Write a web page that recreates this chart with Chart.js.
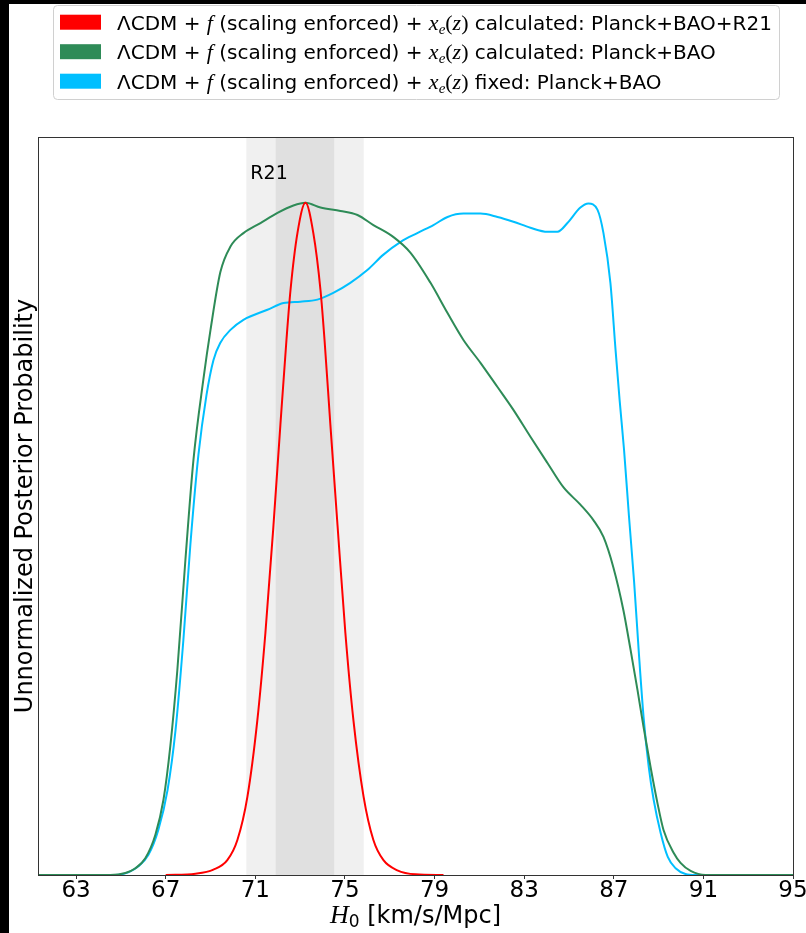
<!DOCTYPE html>
<html>
<head>
<meta charset="utf-8">
<script src="https://cdn.jsdelivr.net/npm/chart.js@4.4.1/dist/chart.umd.min.js"></script>
<style>
  html, body { margin: 0; padding: 0; background: #000; }
  canvas { display: block; }
</style>
</head>
<body>
<canvas id="h0Chart" width="806" height="933"></canvas>
<script>
// H0 posteriors (peak of each curve = 1)
const redX = [67.0, 68.33, 69.13, 69.75, 70.20, 70.65, 71.09, 71.45, 71.81, 72.12, 72.39, 72.57, 72.88, 73.24,
  73.59, 73.91, 74.09, 74.35, 74.67, 75.02, 75.38, 75.83, 76.27, 76.72, 77.34, 78.15, 79.40];
const redY = [0, 0.002, 0.008, 0.022, 0.052, 0.117, 0.23, 0.36, 0.52, 0.67, 0.796, 0.87, 0.955, 1.0,
  0.955, 0.87, 0.796, 0.67, 0.52, 0.36, 0.23, 0.117, 0.052, 0.022, 0.007, 0.001, 0];

const greenX = [61.32, 64.53, 65.20, 65.65, 66.09, 66.54, 66.90, 67.21, 67.52, 67.88, 68.24, 68.68, 69.00, 69.44,
  69.89, 70.47, 71.23, 71.99, 72.70, 73.24, 73.91, 74.80, 75.56, 76.27, 77.17, 77.92, 78.82, 79.58, 80.29, 81.05,
  81.81, 82.52, 83.28, 84.04, 84.75, 85.51, 86.09, 86.54, 86.98, 87.43, 87.75, 88.06, 88.33, 88.64, 88.95, 89.22,
  89.67, 89.98, 90.43, 91.10, 95.0];
const greenY = [0, 0, 0.003, 0.010, 0.025, 0.060, 0.112, 0.193, 0.305, 0.469, 0.618, 0.737, 0.811, 0.897,
  0.935, 0.955, 0.970, 0.985, 0.996, 1.0, 0.993, 0.988, 0.982, 0.967, 0.949, 0.926, 0.881, 0.836, 0.796, 0.762,
  0.726, 0.692, 0.652, 0.613, 0.577, 0.551, 0.528, 0.503, 0.458, 0.394, 0.335, 0.275, 0.220, 0.161, 0.107, 0.067,
  0.033, 0.018, 0.006, 0, 0];

const cyanX = [61.32, 64.76, 65.33, 65.78, 66.23, 66.67, 67.08, 67.44, 67.79, 68.10, 68.46, 68.82, 69.13, 69.44,
  69.89, 70.47, 71.54, 72.26, 73.01, 73.77, 74.48, 75.24, 76.00, 76.72, 77.49, 78.23, 78.95, 79.58, 80.29, 81.05,
  81.81, 82.52, 83.28, 84.04, 84.49, 84.93, 85.51, 85.87, 86.27, 86.54, 86.85, 87.08, 87.26, 87.46, 87.68, 87.91,
  88.11, 88.33, 88.56, 88.78, 89.09, 89.41, 89.76, 90.20, 90.65, 95.0];
const cyanY = [0, 0, 0.004, 0.013, 0.030, 0.067, 0.126, 0.216, 0.350, 0.491, 0.625, 0.714, 0.766, 0.792,
  0.811, 0.826, 0.841, 0.851, 0.853, 0.856, 0.866, 0.881, 0.900, 0.923, 0.942, 0.955, 0.967, 0.979, 0.984, 0.984,
  0.979, 0.972, 0.963, 0.957, 0.957, 0.970, 0.993, 0.999, 0.990, 0.955, 0.881, 0.781, 0.707, 0.632, 0.533, 0.435,
  0.335, 0.235, 0.161, 0.112, 0.063, 0.027, 0.010, 0.0015, 0, 0];

const xTicks = [63, 67, 71, 75, 79, 83, 87, 91, 95];
const r21Inner = [71.91, 74.52]; // 1 sigma band
const r21Outer = [70.60, 75.84]; // 2 sigma band

const seriesColors = ['#ff0000', '#2e8b57', '#00bfff'];
const legendTails = ['calculated: Planck+BAO+R21', 'calculated: Planck+BAO', 'fixed: Planck+BAO'];

const SANS = '"DejaVu Sans", sans-serif';
const SERIF = '"Liberation Serif", serif';

function toPoints(xs, ys) {
  return xs.map((x, i) => ({ x, y: ys[i] }));
}

function drawRuns(ctx, x, y, runs) {
  runs.forEach((r) => {
    ctx.font = r.font;
    ctx.fillText(r.text, x, y + (r.dy || 0));
    x += ctx.measureText(r.text).width;
  });
  return x;
}

function legendRuns(tail) {
  return [
    { text: 'ΛCDM + ', font: `20px ${SANS}` },
    { text: 'f', font: `italic 22px ${SERIF}` },
    { text: ' (scaling enforced) + ', font: `20px ${SANS}` },
    { text: 'x', font: `italic 22px ${SERIF}` },
    { text: 'e', font: `italic 15px ${SERIF}`, dy: 4 },
    { text: '(', font: `22px ${SERIF}` },
    { text: 'z', font: `italic 22px ${SERIF}` },
    { text: ')', font: `22px ${SERIF}` },
    { text: ' ' + tail, font: `20px ${SANS}` },
  ];
}

const figurePlugin = {
  id: 'figure',
  beforeDraw(chart) {
    const ctx = chart.ctx;
    ctx.save();
    ctx.fillStyle = '#000';
    ctx.fillRect(0, 0, chart.width, chart.height);
    ctx.fillStyle = '#fff';
    ctx.fillRect(9, 4, chart.width - 9, chart.height - 4);
    ctx.restore();
  },
  beforeDatasetsDraw(chart) {
    const { ctx, chartArea: a, scales } = chart;
    const xs = scales.x;
    ctx.save();
    ctx.fillStyle = '#f0f0f0';
    ctx.fillRect(xs.getPixelForValue(r21Outer[0]), a.top, xs.getPixelForValue(r21Outer[1]) - xs.getPixelForValue(r21Outer[0]), a.bottom - a.top);
    ctx.fillStyle = '#e0e0e0';
    ctx.fillRect(xs.getPixelForValue(r21Inner[0]), a.top, xs.getPixelForValue(r21Inner[1]) - xs.getPixelForValue(r21Inner[0]), a.bottom - a.top);
    ctx.fillStyle = '#000';
    ctx.font = `19px ${SANS}`;
    ctx.textBaseline = 'alphabetic';
    ctx.fillText('R21', xs.getPixelForValue(r21Outer[0]) + 4, scales.y.getPixelForValue(1.035));
    ctx.restore();
  },
  afterDatasetsDraw(chart) {
    const { ctx, chartArea: a } = chart;
    ctx.save();
    ctx.strokeStyle = '#333';
    ctx.lineWidth = 1;
    ctx.strokeRect(a.left + 0.5, a.top + 0.5, a.right - a.left, a.bottom - a.top);
    ctx.restore();
  },
  afterDraw(chart) {
    const { ctx, chartArea: a } = chart;
    ctx.save();
    // legend
    ctx.fillStyle = '#fff';
    ctx.strokeStyle = '#d0d0d0';
    ctx.lineWidth = 1;
    ctx.beginPath();
    ctx.roundRect(53.5, 5.5, 726, 94, 4);
    ctx.fill();
    ctx.stroke();
    ctx.textBaseline = 'alphabetic';
    legendTails.forEach((tail, i) => {
      const cy = 22.2 + i * 29.5;
      ctx.fillStyle = seriesColors[i];
      ctx.fillRect(60, cy - 7.5, 41, 15);
      ctx.fillStyle = '#000';
      drawRuns(ctx, 117, cy + 7.3, legendRuns(tail));
    });
    // y title
    ctx.save();
    ctx.translate(32, (a.top + a.bottom) / 2);
    ctx.rotate(-Math.PI / 2);
    ctx.font = `24px ${SANS}`;
    ctx.textAlign = 'center';
    ctx.fillText('Unnormalized Posterior Probability', 0, 0);
    ctx.restore();
    // x title
    const runs = [
      { text: 'H', font: `italic 26px ${SERIF}` },
      { text: '0', font: `17px ${SANS}`, dy: 4 },
      { text: ' [km/s/Mpc]', font: `24px ${SANS}` },
    ];
    let w = 0;
    runs.forEach((r) => { ctx.font = r.font; w += ctx.measureText(r.text).width; });
    drawRuns(ctx, (a.left + a.right) / 2 - w / 2, 923, runs);
    ctx.restore();
  },
};

const config = {
  type: 'line',
  data: {
    datasets: [
      { data: toPoints(redX, redY), borderColor: seriesColors[0] },
      { data: toPoints(greenX, greenY), borderColor: seriesColors[1] },
      { data: toPoints(cyanX, cyanY), borderColor: seriesColors[2] },
    ].map((d) => ({
      ...d,
      borderWidth: 2,
      pointRadius: 0,
      fill: false,
      cubicInterpolationMode: 'monotone',
      clip: false,
    })),
  },
  options: {
    responsive: false,
    animation: false,
    layout: { padding: { left: 38, top: 137, right: 13, bottom: 0 } },
    scales: {
      x: {
        type: 'linear',
        min: 61.3,
        max: 95,
        afterBuildTicks: (axis) => {
          axis.ticks = xTicks.map((v) => ({ value: v }));
        },
        afterFit: (axis) => {
          axis.height = 58;
          axis.paddingLeft = 0;
          axis.paddingRight = 0;
        },
        ticks: {
          autoSkip: false,
          maxRotation: 0,
          padding: -2,
          color: '#000',
          font: { family: 'DejaVu Sans', size: 23 },
        },
        grid: { drawOnChartArea: false, tickLength: 4, color: '#333' },
        border: { display: false },
      },
      y: { display: false, min: 0, max: 1.098 },
    },
    plugins: {
      legend: { display: false },
      tooltip: { enabled: false },
    },
  },
  plugins: [figurePlugin],
};

new Chart(document.getElementById('h0Chart').getContext('2d'), config);
</script>
</body>
</html>
